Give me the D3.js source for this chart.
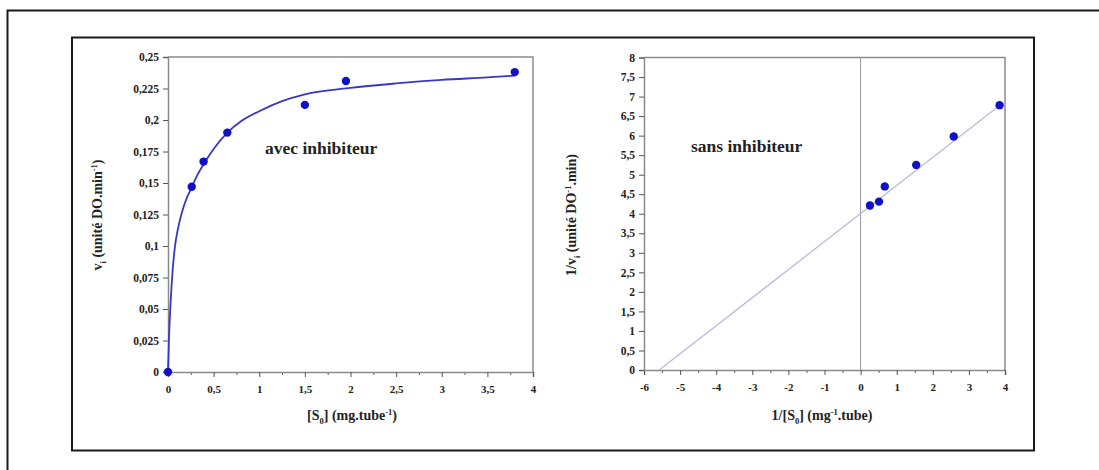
<!DOCTYPE html>
<html>
<head>
<meta charset="utf-8">
<script src="https://cdn.jsdelivr.net/npm/d3@7"></script>
<style>
  body { margin: 0; background: #fff; }
  svg { display: block; }
  text { font-family: "Liberation Serif", "Times New Roman", serif; font-weight: bold; fill: #222; }
</style>
</head>
<body>
<div id="chart"></div>
<script>
// left plot : v_i against [S0], with inhibitor
const sConc = [0, 0.26, 0.39, 0.65, 1.5, 1.95, 3.8];
const vRate = [0, 0.147, 0.167, 0.19, 0.212, 0.231, 0.238];
// fitted hyperbola
const fitS = [0, 0.01, 0.025, 0.05, 0.077, 0.11, 0.15, 0.2, 0.25, 0.32, 0.4, 0.5, 0.65, 0.8, 1, 1.25, 1.5, 2, 2.5, 3, 3.5, 3.8];
const fitV = [0, 0.025, 0.05, 0.08, 0.1, 0.114, 0.126, 0.137, 0.145, 0.156, 0.166, 0.177, 0.19, 0.199, 0.207, 0.215, 0.2204, 0.2255, 0.229, 0.2318, 0.2338, 0.2352];
const leftYTicks = [0, 0.025, 0.05, 0.075, 0.1, 0.125, 0.15, 0.175, 0.2, 0.225, 0.25];
const leftXTicks = [0, 0.5, 1, 1.5, 2, 2.5, 3, 3.5, 4];

// right plot : Lineweaver-Burk, without inhibitor
const invS = [0.26, 0.51, 0.67, 1.54, 2.58, 3.85];
const invV = [4.21, 4.31, 4.7, 5.25, 5.98, 6.78];
const lineX = [-5.58, 3.85];
const lineY = [0, 6.77];
const rightYTicks = [0, 0.5, 1, 1.5, 2, 2.5, 3, 3.5, 4, 4.5, 5, 5.5, 6, 6.5, 7, 7.5, 8];
const rightXTicks = [-6, -5, -4, -3, -2, -1, 0, 1, 2, 3, 4];

const width = 1099, height = 470;
const svg = d3.select("#chart").append("svg")
    .attr("width", width)
    .attr("height", height);

// frames
svg.append("rect")
    .attr("x", 7.5).attr("y", 10.5)
    .attr("width", 1200).attr("height", 600)
    .attr("fill", "none").attr("stroke", "#1a1a1a").attr("stroke-width", 2);
svg.append("rect")
    .attr("x", 72).attr("y", 37.5)
    .attr("width", 962).attr("height", 413)
    .attr("fill", "none").attr("stroke", "#1a1a1a").attr("stroke-width", 2);

const fmt = d => String(d).replace(".", ",");
const axisGrey = "#8a8a8a";
const dotBlue = "#1010c8";

function drawPanel(o) {
    const g = svg.append("g");
    const x = d3.scaleLinear().domain(o.xDomain).range(o.xRange);
    const y = d3.scaleLinear().domain(o.yDomain).range(o.yRange);

    // top and right border of plot area
    g.append("path")
        .attr("d", `M${o.xRange[0]},${o.yRange[1]}H${o.xRange[1]}V${o.yRange[0]}`)
        .attr("fill", "none").attr("stroke", axisGrey).attr("stroke-width", 1.5);

    // minor ticks
    const xMinorAxis = d3.axisBottom(x).tickValues(o.xMinor).tickSize(3).tickFormat("");
    g.append("g").attr("transform", `translate(0,${o.yRange[0]})`).call(xMinorAxis)
        .call(s => s.select(".domain").remove())
        .call(s => s.selectAll("line").attr("stroke", "#555"));

    const xAxis = d3.axisBottom(x).tickValues(o.xTicks).tickSize(5).tickPadding(8).tickFormat(fmt);
    g.append("g").attr("transform", `translate(0,${o.yRange[0]})`).call(xAxis)
        .call(s => s.select(".domain").attr("stroke", axisGrey).attr("stroke-width", 1.5))
        .call(s => s.selectAll("line").attr("stroke", "#555"))
        .call(s => s.selectAll("text").attr("font-size", 11).attr("font-family", null).attr("fill", "#2a2a2a"));

    const yAxis = d3.axisLeft(y).tickValues(o.yTicks).tickSize(5).tickPadding(4).tickFormat(fmt);
    g.append("g").attr("transform", `translate(${o.xRange[0]},0)`).call(yAxis)
        .call(s => s.select(".domain").attr("stroke", axisGrey).attr("stroke-width", 1.5))
        .call(s => s.selectAll("line").attr("stroke", "#555"))
        .call(s => s.selectAll("text").attr("font-size", 11.5).attr("font-family", null).attr("fill", "#2a2a2a"));

    return { g, x, y };
}

// ---- left panel
const L = drawPanel({
    xDomain: [0, 4], xRange: [168, 533],
    yDomain: [0, 0.25], yRange: [372, 57],
    xTicks: leftXTicks, yTicks: leftYTicks,
    xMinor: d3.range(0.25, 4, 0.5)
});

const fitLine = d3.line()
    .x((d, i) => L.x(fitS[i]))
    .y(d => L.y(d))
    .curve(d3.curveMonotoneX);
L.g.append("path")
    .attr("d", fitLine(fitV))
    .attr("fill", "none").attr("stroke", "#3838c6").attr("stroke-width", 1.8);

L.g.selectAll("circle").data(vRate).join("circle")
    .attr("cx", (d, i) => L.x(sConc[i]))
    .attr("cy", d => L.y(d))
    .attr("r", 4.2)
    .attr("fill", dotBlue);

L.g.append("text").attr("x", 265).attr("y", 154)
    .attr("font-size", 17.5).text("avec inhibiteur");

// x title
const lxt = L.g.append("text").attr("x", 352).attr("y", 420)
    .attr("text-anchor", "middle").attr("font-size", 14);
lxt.append("tspan").text("[S");
lxt.append("tspan").attr("font-size", 8.5).attr("dy", 4).text("0");
lxt.append("tspan").attr("dy", -4).text("] (mg.tube");
lxt.append("tspan").attr("font-size", 8.5).attr("dy", -5).text("-1");
lxt.append("tspan").attr("dy", 5).text(")");

// y title
const lyt = L.g.append("text")
    .attr("transform", "translate(102,215) rotate(-90)")
    .attr("text-anchor", "middle").attr("font-size", 14);
lyt.append("tspan").text("v");
lyt.append("tspan").attr("font-size", 8.5).attr("dy", 4).text("i");
lyt.append("tspan").attr("dy", -4).text(" (unité DO.min");
lyt.append("tspan").attr("font-size", 8.5).attr("dy", -5).text("-1");
lyt.append("tspan").attr("dy", 5).text(")");

// ---- right panel
const R = drawPanel({
    xDomain: [-6, 4], xRange: [644, 1005],
    yDomain: [0, 8], yRange: [370, 57.5],
    xTicks: rightXTicks, yTicks: rightYTicks,
    xMinor: d3.range(-5.5, 4, 1)
});

// vertical reference at x = 0
R.g.append("line")
    .attr("x1", R.x(0)).attr("x2", R.x(0))
    .attr("y1", R.y(0)).attr("y2", R.y(8))
    .attr("stroke", "#999").attr("stroke-width", 1);

R.g.append("path")
    .attr("d", d3.line().x((d, i) => R.x(lineX[i])).y(d => R.y(d))(lineY))
    .attr("fill", "none").attr("stroke", "#b8badf").attr("stroke-width", 1.3);

R.g.selectAll("circle").data(invV).join("circle")
    .attr("cx", (d, i) => R.x(invS[i]))
    .attr("cy", d => R.y(d))
    .attr("r", 4.2)
    .attr("fill", dotBlue);

R.g.append("text").attr("x", 691).attr("y", 152)
    .attr("font-size", 17.5).text("sans inhibiteur");

const rxt = R.g.append("text").attr("x", 822).attr("y", 420)
    .attr("text-anchor", "middle").attr("font-size", 14);
rxt.append("tspan").text("1/[S");
rxt.append("tspan").attr("font-size", 8.5).attr("dy", 4).text("0");
rxt.append("tspan").attr("dy", -4).text("] (mg");
rxt.append("tspan").attr("font-size", 8.5).attr("dy", -5).text("-1");
rxt.append("tspan").attr("dy", 5).text(".tube)");

const ryt = R.g.append("text")
    .attr("transform", "translate(576,215) rotate(-90)")
    .attr("text-anchor", "middle").attr("font-size", 14);
ryt.append("tspan").text("1/v");
ryt.append("tspan").attr("font-size", 8.5).attr("dy", 4).text("i");
ryt.append("tspan").attr("dy", -4).text(" (unité DO");
ryt.append("tspan").attr("font-size", 8.5).attr("dy", -5).text("-1");
ryt.append("tspan").attr("dy", 5).text(".min)");
</script>
</body>
</html>
